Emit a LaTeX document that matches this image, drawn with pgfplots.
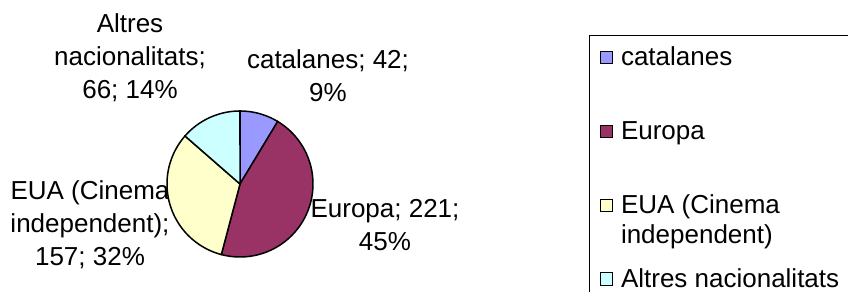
\documentclass[border=0pt]{standalone}
\usepackage{pgfplots}
\pgfplotsset{compat=1.18}
\usepackage{fontspec}
\setmainfont{Liberation Sans}
\definecolor{cCat}{HTML}{9999FF}
\definecolor{cEur}{HTML}{993366}
\definecolor{cEUA}{HTML}{FFFFCC}
\definecolor{cAlt}{HTML}{CCFFFF}
\newcommand\lbl{\fontsize{13pt}{16.5pt}\selectfont}
\newcommand\legfont{\fontsize{13pt}{15.3pt}\selectfont}
\newcommand\legtxt[1]{\raisebox{0pt}[9.5pt][3pt]{#1}}
% data values
\def\vCat{42}\def\vEur{221}\def\vEUA{157}\def\vAlt{66}
\pgfmathsetmacro\tot{\vCat+\vEur+\vEUA+\vAlt}
\pgfmathsetmacro\aA{90-360/\tot*\vCat}
\pgfmathsetmacro\aB{\aA-360/\tot*\vEur}
\pgfmathsetmacro\aC{\aB-360/\tot*\vEUA}
\pgfmathsetmacro\aD{\aC-360/\tot*\vAlt}
\begin{document}
\begin{tikzpicture}
\useasboundingbox (0,0) rectangle (424pt,146pt);
\clip (0,0) rectangle (424pt,146pt);
\begin{axis}[
 at={(0pt,0pt)}, anchor=south west,
 width=424pt, height=146pt, scale only axis,
 xmin=0, xmax=848, ymin=0, ymax=292,
 hide axis, clip=false,
 legend cell align=left,
 legend style={at={(axis cs:589,257)}, anchor=north west, draw=black, line width=0.6pt,
   inner xsep=5pt, inner ysep=5.6pt, row sep=25.9pt, column sep=4pt, font=\legfont,
   nodes={inner sep=0pt}},
 legend image code/.code={\draw[#1,draw=black,line width=0.5pt] (0pt,-3.1pt) rectangle (6.2pt,3.1pt);},
]
\node[font=\lbl, align=center] at (axis cs:328,216) {catalanes; 42;\\9\%};
\node[font=\lbl, align=center] at (axis cs:130,234) {Altres\\nacionalitats;\\66; 14\%};
\node[font=\lbl, align=center] at (axis cs:90,67) {EUA (Cinema\\independent);\\157; 32\%};
\node[font=\lbl, align=center] at (axis cs:385,67) {Europa; 221;\\45\%};
\addplot[fill=cCat, draw=black, line width=0.75pt, domain=\aA:90, samples=40]
  ({240+73*cos(x)},{108+73*sin(x)}) -- (axis cs:240,108) -- cycle;
\addlegendentry{\legtxt{catalanes}}
\addplot[fill=cEur, draw=black, line width=0.75pt, domain=\aB:\aA, samples=120]
  ({240+73*cos(x)},{108+73*sin(x)}) -- (axis cs:240,108) -- cycle;
\addlegendentry{\legtxt{Europa}}
\addplot[fill=cEUA, draw=black, line width=0.75pt, domain=\aC:\aB, samples=90]
  ({240+73*cos(x)},{108+73*sin(x)}) -- (axis cs:240,108) -- cycle;
\addlegendentry{\legtxt{\begin{tabular}[t]{@{}l@{}}EUA (Cinema\\independent)\end{tabular}}}
\addplot[fill=cAlt, draw=black, line width=0.75pt, domain=\aD:\aC, samples=40]
  ({240+73*cos(x)},{108+73*sin(x)}) -- (axis cs:240,108) -- cycle;
\addlegendentry{\legtxt{Altres nacionalitats}}
\end{axis}
\end{tikzpicture}
\end{document}
